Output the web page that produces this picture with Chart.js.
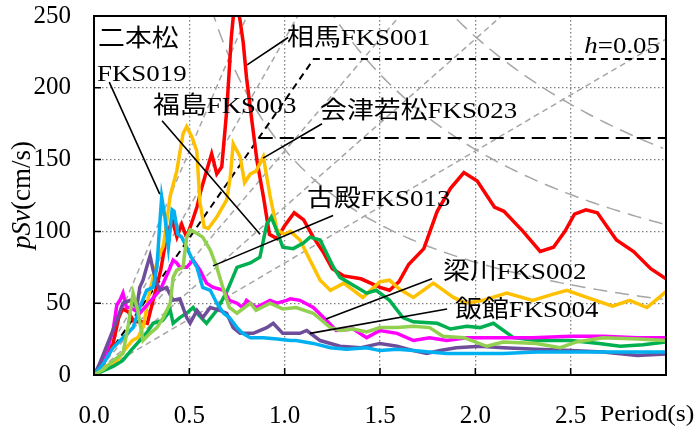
<!DOCTYPE html>
<html>
<head>
<meta charset="utf-8">
<script src="https://cdn.jsdelivr.net/npm/chart.js@4.4.0/dist/chart.umd.min.js"></script>
<style>
html, body { margin: 0; padding: 0; background: #fff; }
</style>
</head>
<body>
<canvas id="c" width="695" height="433"></canvas>
<script>
// axis ticks
const xTicks = [0, 0.5, 1.0, 1.5, 2.0, 2.5, 3.0];
const yTicks = [0, 50, 100, 150, 200, 250];

// 相馬 FKS001 (red)
const somaT = [0,0.05,0.1,0.13,0.15,0.18,0.21,0.25,0.28,0.31,0.35,0.38,0.41,0.435,0.46,0.485,0.51,0.54,0.56,0.59,0.617,0.644,0.67,0.696,0.72,0.735,0.75,0.766,0.783,0.80,0.83,0.855,0.89,0.92,0.96,1.0,1.05,1.1,1.15,1.2,1.25,1.31,1.4,1.5,1.55,1.6,1.65,1.73,1.8,1.87,1.94,2.01,2.1,2.15,2.25,2.34,2.41,2.47,2.52,2.58,2.64,2.74,2.83,2.92,3.0];
const somaV = [0,8,22,40,46,44,37,37,36,52,73,96,108,96,105,96,105,117,128,142,154,140,145,184,235,256,258,247,231,207,175,149,123,98,95,104,113,108,96,86,74,69,67,61,59,65,77,88,114,130,141,135,117,114,100,86,89,100,112,115,113,94,86,74,67];

// 会津若松 FKS023 (orange)
const aizuT = [0,0.05,0.12,0.17,0.2,0.23,0.26,0.285,0.31,0.337,0.364,0.38,0.40,0.434,0.467,0.486,0.513,0.539,0.556,0.578,0.6,0.644,0.67,0.696,0.715,0.73,0.766,0.79,0.82,0.85,0.888,0.923,0.96,1.0,1.03,1.08,1.133,1.186,1.24,1.31,1.41,1.5,1.55,1.6,1.675,1.78,1.885,1.95,2.04,2.165,2.3,2.4,2.48,2.585,2.72,2.81,2.9,3.0];
const aizuV = [0,5,10,19,24,26,34,54,68,82,90,105,125,142,168,173,166,156,120,103,102,110,116,122,138,161,152,134,140,142,152,125,101,98,100,94,80,66,59,64,54,65,66,60,54,64,54,50,52,57,52,56,59,54,48,52,47,58];

// 古殿 FKS013 (green)
const furudonoT = [0,0.05,0.1,0.15,0.2,0.24,0.28,0.31,0.36,0.40,0.415,0.45,0.486,0.52,0.54,0.59,0.644,0.70,0.75,0.82,0.87,0.906,0.93,0.96,0.99,1.045,1.1,1.133,1.186,1.256,1.29,1.34,1.43,1.48,1.55,1.62,1.675,1.8,1.87,1.955,2.025,2.095,2.2,2.32,2.5,2.65,2.76,2.88,3.0];
const furudonoV = [0,3,6,10,18,24,30,36,38,45,36,40,43,47,43,36,45,59,75,78,82,105,110,100,89,88,92,96,94,75,68,64,57,59,52,40,37,36,32,34,33,36,26,24,24,22,20,21,23];

// 梁川 FKS002 (light green)
const yanagawaT = [0,0.05,0.084,0.12,0.152,0.18,0.205,0.23,0.257,0.294,0.33,0.363,0.40,0.415,0.434,0.467,0.486,0.504,0.535,0.57,0.61,0.644,0.68,0.71,0.75,0.82,0.85,0.923,0.99,1.06,1.15,1.24,1.29,1.36,1.43,1.5,1.59,1.675,1.76,1.83,1.94,2.06,2.146,2.32,2.445,2.53,2.67,2.85,3.0];
const yanagawaV = [0,4,8,12,15,35,57,45,24,29,33,40,50,68,73,75,96,101,99,96,87,75,59,47,43,50,45,50,46,47,43,33,31,32,30,33,33,34,33,27,26,20,23,22,19,23,26,25,24];

// 福島 FKS003 (magenta)
const fukushimaT = [0,0.05,0.1,0.12,0.136,0.152,0.17,0.19,0.24,0.3,0.35,0.40,0.415,0.434,0.45,0.486,0.52,0.556,0.59,0.625,0.68,0.71,0.75,0.78,0.80,0.85,0.923,0.96,1.01,1.03,1.08,1.15,1.22,1.27,1.36,1.43,1.5,1.59,1.675,1.76,1.85,1.955,2.146,2.3,2.5,2.67,2.85,3.0];
const fukushimaV = [0,10,31,49,52,57,47,47,43,52,60,75,80,78,75,75,80,73,64,61,59,52,50,47,52,47,52,50,52,53,52,47,38,31,32,26,31,29,24,26,24,26,26,26,27,27,26,26];

// 飯館 FKS004 (purple)
const iitateT = [0,0.03,0.084,0.12,0.152,0.19,0.224,0.24,0.257,0.276,0.294,0.31,0.33,0.346,0.38,0.415,0.45,0.486,0.504,0.54,0.57,0.61,0.66,0.696,0.73,0.766,0.835,0.906,0.94,0.99,1.08,1.116,1.186,1.29,1.40,1.50,1.59,1.675,1.745,1.815,1.90,2.025,2.146,2.32,2.50,2.67,2.85,3.0];
const iitateV = [0,8,26,38,50,52,47,61,66,75,83,73,64,59,61,52,53,40,36,45,40,47,45,43,33,29,29,33,36,29,29,31,24,20,19,22,20,17,15,17,19,20,19,18,17,16,13.5,14.6];

// 二本松 FKS019 (cyan)
const nihonmatsuT = [0,0.05,0.1,0.152,0.205,0.24,0.276,0.31,0.33,0.345,0.355,0.372,0.39,0.41,0.42,0.44,0.46,0.486,0.51,0.54,0.57,0.61,0.644,0.68,0.71,0.75,0.78,0.82,0.89,0.96,1.03,1.06,1.15,1.24,1.325,1.43,1.5,1.59,1.675,1.76,1.85,2.025,2.146,2.32,2.5,2.67,3.0];
const nihonmatsuV = [0,8,19,26,33,47,59,61,75,105,124,110,89,115,114,98,96,89,82,75,61,59,50,43,40,33,29,26,26,25,24,24,22,19,18,19,17,18,17,16,15,15,15,16,16,16,16];

// tripartite guides: constant Sa (in g) and constant Sd (cm)
const saGuideG = [0.5, 0.75, 1.0, 1.5, 2.0];
const sdGuideCm = [25, 50, 75];
// design spectrum: ramp Sa (gal) and plateau levels (cm/s)
const designSa = 1200;
const designLevels = [220, 165];

const TWO_PI = 2 * Math.PI;

function pts(T, V) {
  return T.map((t, i) => ({ x: t, y: V[i] }));
}

function lineSet(data, color, width, dash) {
  return {
    data: data,
    borderColor: color,
    borderWidth: width,
    borderDash: dash || [],
    pointRadius: 0,
    fill: false,
    tension: 0,
    clip: 0,
  };
}

const datasets = [];
// colored spectra (first = drawn on top)
datasets.push(lineSet(pts(yanagawaT, yanagawaV), "#92D050", 3.5));
datasets.push(lineSet(pts(nihonmatsuT, nihonmatsuV), "#00B0F0", 3.5));
datasets.push(lineSet(pts(iitateT, iitateV), "#6E4E9B", 3.5));
datasets.push(lineSet(pts(fukushimaT, fukushimaV), "#FF00FF", 3.5));
datasets.push(lineSet(pts(furudonoT, furudonoV), "#00B050", 3.5));
datasets.push(lineSet(pts(aizuT, aizuV), "#FFC000", 3.5));
datasets.push(lineSet(pts(somaT, somaV), "#FF0000", 3.5));

// design spectra
const rampSlope = designSa / TWO_PI;
datasets.push(lineSet([{ x: 0, y: 0 }, { x: designLevels[0] / rampSlope, y: designLevels[0] }, { x: 3, y: designLevels[0] }], "#000", 2, [7, 5]));
datasets.push(lineSet([{ x: designLevels[1] / rampSlope, y: designLevels[1] }, { x: 3, y: designLevels[1] }], "#000", 2, [14, 7]));

// gray guides
saGuideG.forEach((g) => {
  const s = (g * 980) / TWO_PI;
  datasets.push(lineSet([{ x: 0, y: 0 }, { x: 3, y: s * 3 }], "#A6A6A6", 1.5, [6, 4]));
});
sdGuideCm.forEach((sd) => {
  const k = TWO_PI * sd;
  const arr = [];
  for (let t = k / 270; t <= 3.0001; t += 0.02) arr.push({ x: t, y: k / t });
  datasets.push(lineSet(arr, "#A6A6A6", 1.5, [14, 8]));
});

// annotations: text in pixels, leaders in data coords
const serif = "'Liberation Serif', 'Times New Roman', serif";
const jp = "'Noto Sans CJK JP', sans-serif";
const labels = [
  { x: 98, y: 46, parts: [["二本松", jp]] },
  { x: 97, y: 81, parts: [["FKS019", serif]] },
  { x: 153, y: 113, parts: [["福島", jp], ["FKS003", serif]] },
  { x: 287, y: 45, parts: [["相馬", jp], ["FKS001", serif]] },
  { x: 320, y: 118, parts: [["会津若松", jp], ["FKS023", serif]] },
  { x: 307, y: 206, parts: [["古殿", jp], ["FKS013", serif]] },
  { x: 443, y: 279, parts: [["梁川", jp], ["FKS002", serif]] },
  { x: 455, y: 317, parts: [["飯館", jp], ["FKS004", serif]] },
];
const leaders = [
  [0.08, 204, 0.345, 126],
  [0.803, 216, 1.018, 235],
  [0.357, 177, 0.871, 98],
  [0.887, 151, 1.196, 175],
  [0.624, 76, 1.254, 111],
  [1.217, 39, 1.773, 67],
  [1.133, 29, 1.852, 46],
];

const fontSize = 24;
const stretch = 1.12;

// draw a run of [text, family, style] pieces, widened like the original
function drawRun(ctx, parts, x, y, size) {
  ctx.save();
  ctx.translate(x, y);
  ctx.scale(stretch, 1);
  let cx = 0;
  parts.forEach(([txt, fam, style]) => {
    ctx.font = (style || "") + " " + size + "px " + fam;
    ctx.fillText(txt, cx, 0);
    cx += ctx.measureText(txt).width;
  });
  ctx.restore();
  return cx * stretch;
}

function runWidth(ctx, parts, size) {
  let w = 0;
  parts.forEach(([txt, fam, style]) => {
    ctx.font = (style || "") + " " + size + "px " + fam;
    w += ctx.measureText(txt).width;
  });
  return w * stretch;
}

const decor = {
  id: "decor",
  afterDatasetsDraw(chart) {
    const { ctx, chartArea: a, scales } = chart;
    const xs = scales.x, ys = scales.y;
    ctx.save();
    // frame
    ctx.strokeStyle = "#000";
    ctx.lineWidth = 2;
    ctx.setLineDash([]);
    ctx.strokeRect(a.left, a.top, a.right - a.left, a.bottom - a.top);
    // inner ticks
    ctx.lineWidth = 1.5;
    ctx.beginPath();
    xTicks.forEach((t) => {
      const px = xs.getPixelForValue(t);
      ctx.moveTo(px, a.bottom);
      ctx.lineTo(px, a.bottom - 7);
    });
    yTicks.forEach((v) => {
      const py = ys.getPixelForValue(v);
      ctx.moveTo(a.left, py);
      ctx.lineTo(a.left + 7, py);
    });
    ctx.stroke();
    // leader lines
    ctx.lineWidth = 1.6;
    ctx.beginPath();
    leaders.forEach((l) => {
      ctx.moveTo(xs.getPixelForValue(l[0]), ys.getPixelForValue(l[1]));
      ctx.lineTo(xs.getPixelForValue(l[2]), ys.getPixelForValue(l[3]));
    });
    ctx.stroke();
    // labels
    ctx.fillStyle = "#000";
    ctx.textBaseline = "alphabetic";
    ctx.textAlign = "left";
    labels.forEach((lb) => drawRun(ctx, lb.parts, lb.x, lb.y, fontSize));
    // h=0.05
    const hParts = [["h", serif, "italic"], ["=0.05", serif]];
    drawRun(ctx, hParts, 660 - runWidth(ctx, hParts, fontSize), 53, fontSize);
    // Period(s)
    drawRun(ctx, [["Period(s)", serif]], 600, 421, 23);
    // y title
    ctx.translate(30, 195);
    ctx.rotate(-Math.PI / 2);
    const tParts = [["pSv", serif, "italic"], ["(cm/s)", serif]];
    let w = 0;
    tParts.forEach(([txt, fam, style]) => {
      ctx.font = (style || "") + " 27px " + fam;
      w += ctx.measureText(txt).width;
    });
    let sx = -w / 2;
    tParts.forEach(([txt, fam, style]) => {
      ctx.font = (style || "") + " 27px " + fam;
      ctx.fillText(txt, sx, 0);
      sx += ctx.measureText(txt).width;
    });
    ctx.restore();
  },
};

new Chart(document.getElementById("c"), {
  type: "line",
  data: { datasets: datasets },
  options: {
    responsive: false,
    animation: false,
    events: [],
    layout: { padding: { top: 16, right: 29, left: 0, bottom: 0 } },
    plugins: { legend: { display: false }, tooltip: { enabled: false } },
    scales: {
      x: {
        type: "linear",
        min: 0,
        max: 3,
        afterBuildTicks: (s) => { s.ticks = xTicks.map((v) => ({ value: v })); },
        afterFit: (s) => { s.height = 58; s.paddingLeft = 0; s.paddingRight = 0; },
        ticks: {
          color: "#000",
          font: { family: serif, size: 25 },
          padding: 26,
          maxRotation: 0,
          callback: (v) => (v === 3 ? "" : v.toFixed(1)),
        },
        grid: { color: "#808080", lineWidth: 1.3, drawTicks: false },
        border: { display: false, dash: [1.5, 2.5] },
      },
      y: {
        type: "linear",
        min: 0,
        max: 250,
        afterBuildTicks: (s) => { s.ticks = yTicks.map((v) => ({ value: v })); },
        afterFit: (s) => { s.width = 94; s.paddingTop = 0; s.paddingBottom = 0; },
        ticks: {
          color: "#000",
          font: { family: serif, size: 25 },
          padding: 23,
        },
        grid: { color: "#808080", lineWidth: 1.3, drawTicks: false },
        border: { display: false, dash: [1.5, 2.5] },
      },
    },
  },
  plugins: [decor],
});
</script>
